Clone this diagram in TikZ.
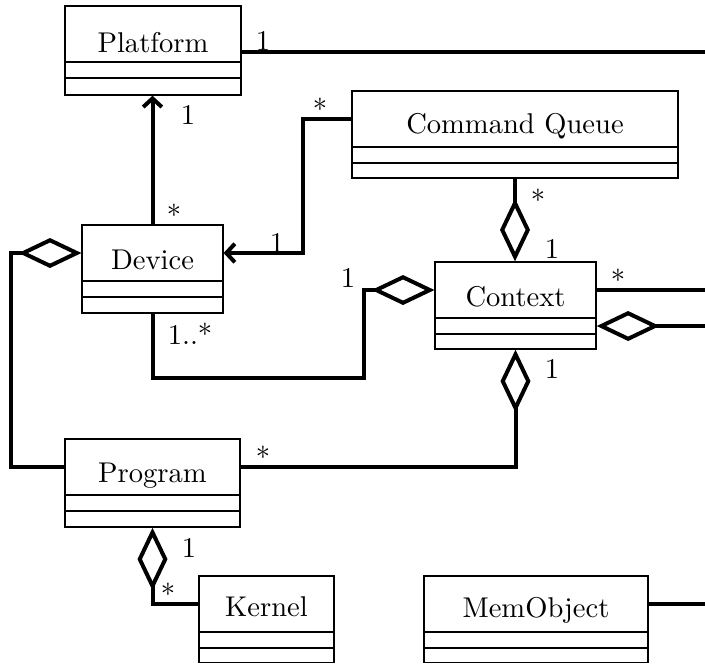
\documentclass[tikz,border=0pt]{standalone}
\usetikzlibrary{arrows.meta,fit,calc}
\tikzset{
  clsbox/.style={draw, line width=0.5pt, inner sep=0pt},
  clsname/.style={draw=none, inner sep=0pt},
  clstext/.style={anchor=base, inner sep=0pt},
  divline/.style={line width=0.5pt},
  conn/.style={line width=1.4pt},
  navarrow/.style={-{Straight Barb[length=3pt,width=6.5pt]}},
  aggend/.style={-{Diamond[open,length=22pt,width=10.5pt]}},
  aggstart/.style={{Diamond[open,length=22pt,width=10.5pt]}-},
  lbl/.style={anchor=base, inner sep=0pt},
}
% #1 name, #2 x1, #3 y1, #4 x2, #5 y2, #6 text, #7 baseline offset
\newcommand\umlcls[7]{%
  \node[clsbox, fit={(#2,#3) (#4,#5)}] (#1) {};
  \node[clsname, fit={(#2,#3) (#4,#3+56)}] (#1-n) {};
  \node[clstext] (#1-t) at ({(#2+#4)/2},#3+#7) {#6};
  \draw[divline] (#2,#3+56) -- (#4,#3+56);
  \draw[divline] (#2,#3+72) -- (#4,#3+72);
}
\begin{document}
\begin{tikzpicture}[x=0.35pt, y=-0.35pt]
\useasboundingbox (0,0) rectangle (705,664);

\umlcls{platform}{65}{6}{241}{95}{Platform}{46}
\umlcls{cq}{352}{91}{678}{178}{Command Queue}{42}
\umlcls{device}{82}{225}{223}{313}{Device}{44}
\umlcls{context}{435}{262}{596}{349}{Context}{44}
\umlcls{program}{65}{439}{240}{527}{Program}{43}
\umlcls{kernel}{199}{576}{334}{662.5}{Kernel}{40}
\umlcls{memobj}{424}{576}{648}{662.5}{MemObject}{41}

\coordinate (pR) at (705,52);
\coordinate (cR1) at (705,290);
\coordinate (cR2) at (705,326);
\coordinate (mR) at (705,604);

% Platform -- right
\draw[conn] (platform.east |- pR) -- (pR);
% Device -> Platform
\draw[conn, navarrow] (device.north) -- (device.north |- platform.south);
% Command Queue -> Device
\draw[conn, navarrow] (cq-n.west) -| ($(device-n.east)+(79,0)$) -- (device-n.east);
% Command Queue -- Context
\draw[conn, aggend] (cq.south) -- (cq.south |- context.north);
% Device -- Context
\draw[conn, aggend] (device.south) |- ($(context-n.west)+(-70,88)$) |- (context-n.west);
% Program -- Device
\draw[conn, aggend] (program-n.west) -| ($(device-n.west)+(-70,0)$) -- (device-n.west);
% Context -- Program
\draw[conn, aggstart] (context.south) |- (program-n.east);
% Context -- right
\draw[conn] (context-n.east) -- (cR1);
\draw[conn, aggstart] (context.east |- cR2) -- (cR2);
% Program -- Kernel
\draw[conn, aggstart] (program.south) |- (kernel-n.west);
% MemObject -- right
\draw[conn] (memobj-n.east) -- (mR);

% multiplicities
\node[lbl] (l1) at (263,50) {1};
\node[lbl] (l2) at (188,124) {1};
\node[lbl] (l3) at (174,225) {*};
\node[lbl] (l4) at (320,119) {*};
\node[lbl] (l5) at (277,252) {1};
\node[lbl] (l6) at (348,287) {1};
\node[lbl] (l7) at (190,344) {1..*};
\node[lbl] (l8) at (538,210) {*};
\node[lbl] (l9) at (552,258) {1};
\node[lbl] (l10) at (618,290) {*};
\node[lbl] (l11) at (552,378) {1};
\node[lbl] (l12) at (263,467) {*};
\node[lbl] (l13) at (189,557) {1};
\node[lbl] (l14) at (168,604) {*};
\end{tikzpicture}
\end{document}
